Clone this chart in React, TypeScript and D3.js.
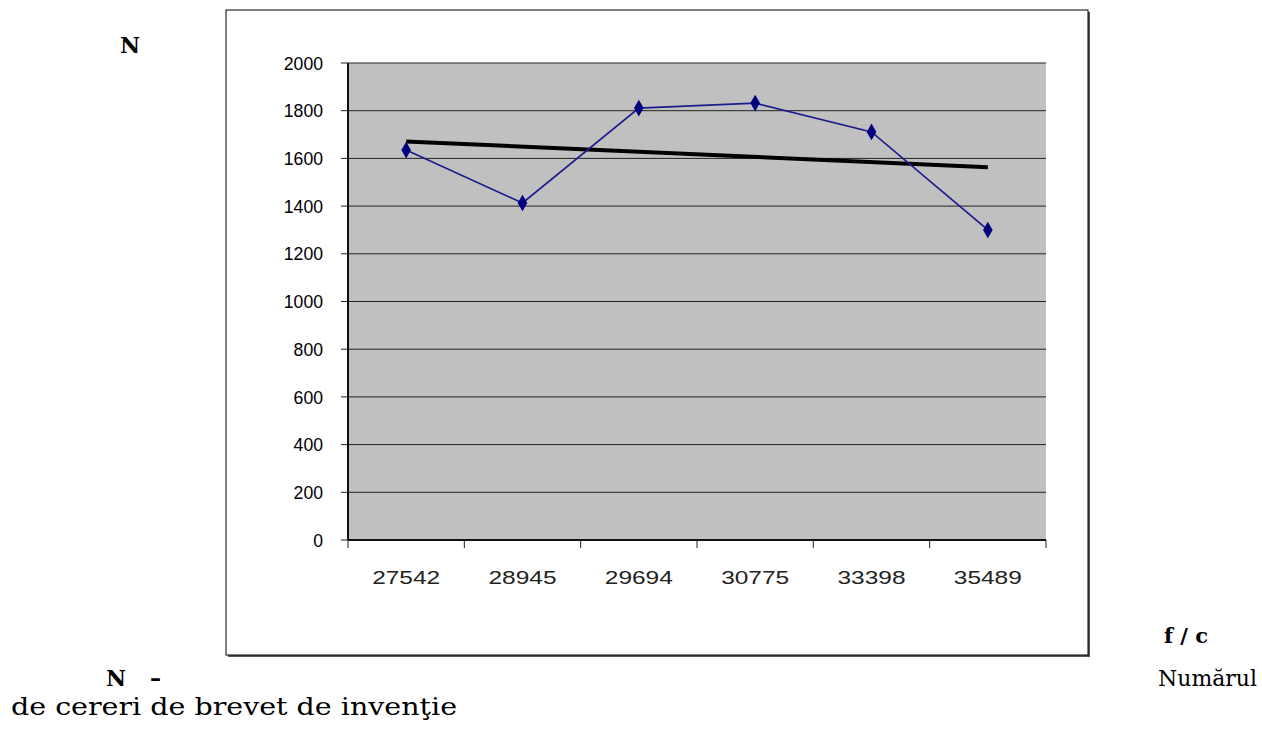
import React from "react";
import * as d3 from "d3";

const categories = ["27542", "28945", "29694", "30775", "33398", "35489"];
const values = [1635, 1413, 1811, 1832, 1711, 1300];
const yTicks = [0, 200, 400, 600, 800, 1000, 1200, 1400, 1600, 1800, 2000];

export default function App() {
  const W = 1262, H = 729;
  const left = 348, right = 1046, top = 63, bottom = 540;
  const x = d3.scaleBand<string>().domain(categories).range([left, right]);
  const y = d3.scaleLinear().domain([0, 2000]).range([bottom, top]);
  const cx = (c: string) => (x(c) as number) + x.bandwidth() / 2;

  // linear trend (least squares)
  const n = values.length;
  const xs = values.map((_, i) => i + 1);
  const mx = d3.mean(xs) as number, my = d3.mean(values) as number;
  const slope = d3.sum(xs.map((xi, i) => (xi - mx) * (values[i] - my))) / d3.sum(xs.map((xi) => (xi - mx) ** 2));
  const icpt = my - slope * mx;
  const t0 = icpt + slope * 1, t1 = icpt + slope * n;

  const line = d3.line<number>().x((_, i) => cx(categories[i])).y((v) => y(v));
  const diamond = d3.symbol().type(d3.symbolDiamond).size(80)();

  const serif = "'DejaVu Serif', serif";
  const sans = "'Liberation Sans', Arial, sans-serif";
  const tickEdges = [...categories.map((c) => x(c) as number), right];

  return (
    <svg width={W} height={H} style={{ position: "absolute", left: 0, top: 0, background: "#fff" }}>
      {/* outer frame with shadow */}
      <rect x={228} y={12} width={862} height={645} fill="#555" />
      <rect x={226} y={10} width={862} height={645} fill="#fff" stroke="#000" strokeWidth={1} />
      {/* plot area */}
      <rect x={left} y={top} width={right - left} height={bottom - top} fill="#c0c0c0" />
      {yTicks.map((t) => (
        <line key={"g" + t} x1={left} x2={right} y1={y(t)} y2={y(t)} stroke="#222" strokeWidth={1} />
      ))}
      {/* axes */}
      <line x1={left} x2={left} y1={top} y2={bottom} stroke="#111" strokeWidth={2} />
      <line x1={left} x2={right} y1={bottom} y2={bottom} stroke="#111" strokeWidth={2} />
      {yTicks.map((t) => (
        <g key={"yt" + t}>
          <line x1={left - 7} x2={left} y1={y(t)} y2={y(t)} stroke="#222" strokeWidth={1} />
          <text x={323} y={y(t)} dy="0.36em" textAnchor="end" fontFamily={sans} fontSize={18.5} fill="#000"
            textLength={String(t).length * 9.8} lengthAdjust="spacingAndGlyphs">
            {t}
          </text>
        </g>
      ))}
      {tickEdges.map((e, i) => (
        <line key={"xt" + i} x1={e} x2={e} y1={bottom} y2={bottom + 8} stroke="#222" strokeWidth={1} />
      ))}
      {categories.map((c) => (
        <text key={"xl" + c} x={cx(c)} y={584} textAnchor="middle" fontFamily={sans} fontSize={19} fill="#222"
          textLength={68} lengthAdjust="spacingAndGlyphs">
          {c}
        </text>
      ))}
      {/* trend line */}
      <line x1={cx(categories[0])} y1={y(t0)} x2={cx(categories[n - 1])} y2={y(t1)} stroke="#000" strokeWidth={4} />
      {/* data line */}
      <path d={line(values) as string} fill="none" stroke="#1c1c8c" strokeWidth={1.7} />
      {values.map((v, i) => (
        <path key={"m" + i} d={diamond as string} transform={`translate(${cx(categories[i])},${y(v)})`} fill="#000080" />
      ))}
      {/* surrounding text */}
      <text x={120} y={53} fontFamily={serif} fontWeight="bold" fontSize={22} fill="#000">N</text>
      <text x={1164} y={643} fontFamily={serif} fontWeight="bold" fontSize={21} fill="#000">f / c</text>
      <text x={106} y={686} fontFamily={serif} fontWeight="bold" fontSize={22} fill="#000">N</text>
      <text x={150} y={686} fontFamily={serif} fontWeight="bold" fontSize={22} fill="#000">–</text>
      <text x={1257} y={686} textAnchor="end" fontFamily={serif} fontSize={23} fill="#000"
        textLength={99} lengthAdjust="spacingAndGlyphs">Numărul</text>
      <text x={11} y={715} fontFamily={serif} fontSize={24} fill="#000"
        textLength={446} lengthAdjust="spacingAndGlyphs">de cereri de brevet de invenţie</text>
    </svg>
  );
}
